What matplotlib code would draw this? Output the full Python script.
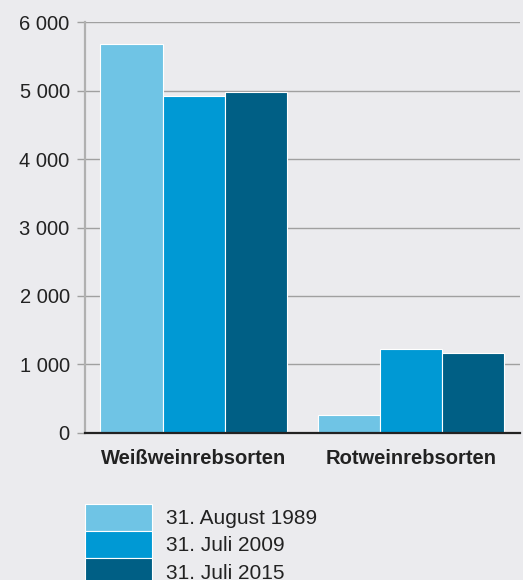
import matplotlib
matplotlib.use('Agg')
import matplotlib.pyplot as plt
import numpy as np

# data
categories = ['Weißweinrebsorten', 'Rotweinrebsorten']
series_labels = ['31. August 1989', '31. Juli 2009', '31. Juli 2015']
values_1989 = [5690, 254]
values_2009 = [4930, 1219]
values_2015 = [4980, 1161]
y_ticks = [0, 1000, 2000, 3000, 4000, 5000, 6000]

colors = ['#6fc4e5', '#0099d4', '#005f85']
bg = '#ebebee'

plt.rcParams['font.family'] = ['Liberation Sans', 'DejaVu Sans']

fig = plt.figure(figsize=(5.23, 5.8), dpi=100, facecolor=bg)
ax = fig.add_axes([0.1625, 0.254, 0.8315, 0.7075], facecolor=bg)

x = np.arange(len(categories))
width = 0.286
all_vals = [values_1989, values_2009, values_2015]
for i, vals in enumerate(all_vals):
    ax.bar(x + (i - 1) * width, vals, width=width, color=colors[i],
           edgecolor='white', linewidth=0.8, label=series_labels[i], zorder=3)

ax.set_xlim(-0.5, 1.5)
ax.set_ylim(0, 6000)
ax.set_yticks(y_ticks)
ax.set_yticklabels([f'{v:,}'.replace(',', ' ') for v in y_ticks])
ax.set_xticks(x)
ax.set_xticklabels(categories, fontweight='bold')

ax.tick_params(axis='y', length=6, width=1, color='#a0a0a0', pad=5,
               labelsize=14.5, labelcolor='#222222')
ax.tick_params(axis='x', length=0, pad=12, labelsize=14.5, labelcolor='#222222')

ax.yaxis.grid(True, color='#a0a0a0', linewidth=1)
ax.set_axisbelow(True)

for s in ['top', 'right']:
    ax.spines[s].set_visible(False)
ax.spines['left'].set_color('#b0b0b0')
ax.spines['left'].set_linewidth(1.6)
ax.spines['bottom'].set_color('#222222')
ax.spines['bottom'].set_linewidth(1.6)
ax.spines['bottom'].set_zorder(4)

leg = ax.legend(loc='upper left', bbox_to_anchor=(0.1625, 0.131),
                bbox_transform=fig.transFigure, frameon=False,
                fontsize=15, handlelength=3.2, handleheight=1.6,
                handletextpad=0.67, labelspacing=0.02, borderpad=0,
                borderaxespad=0)
for t in leg.get_texts():
    t.set_color('#222222')

plt.savefig('out.png', dpi=100, facecolor=bg)
